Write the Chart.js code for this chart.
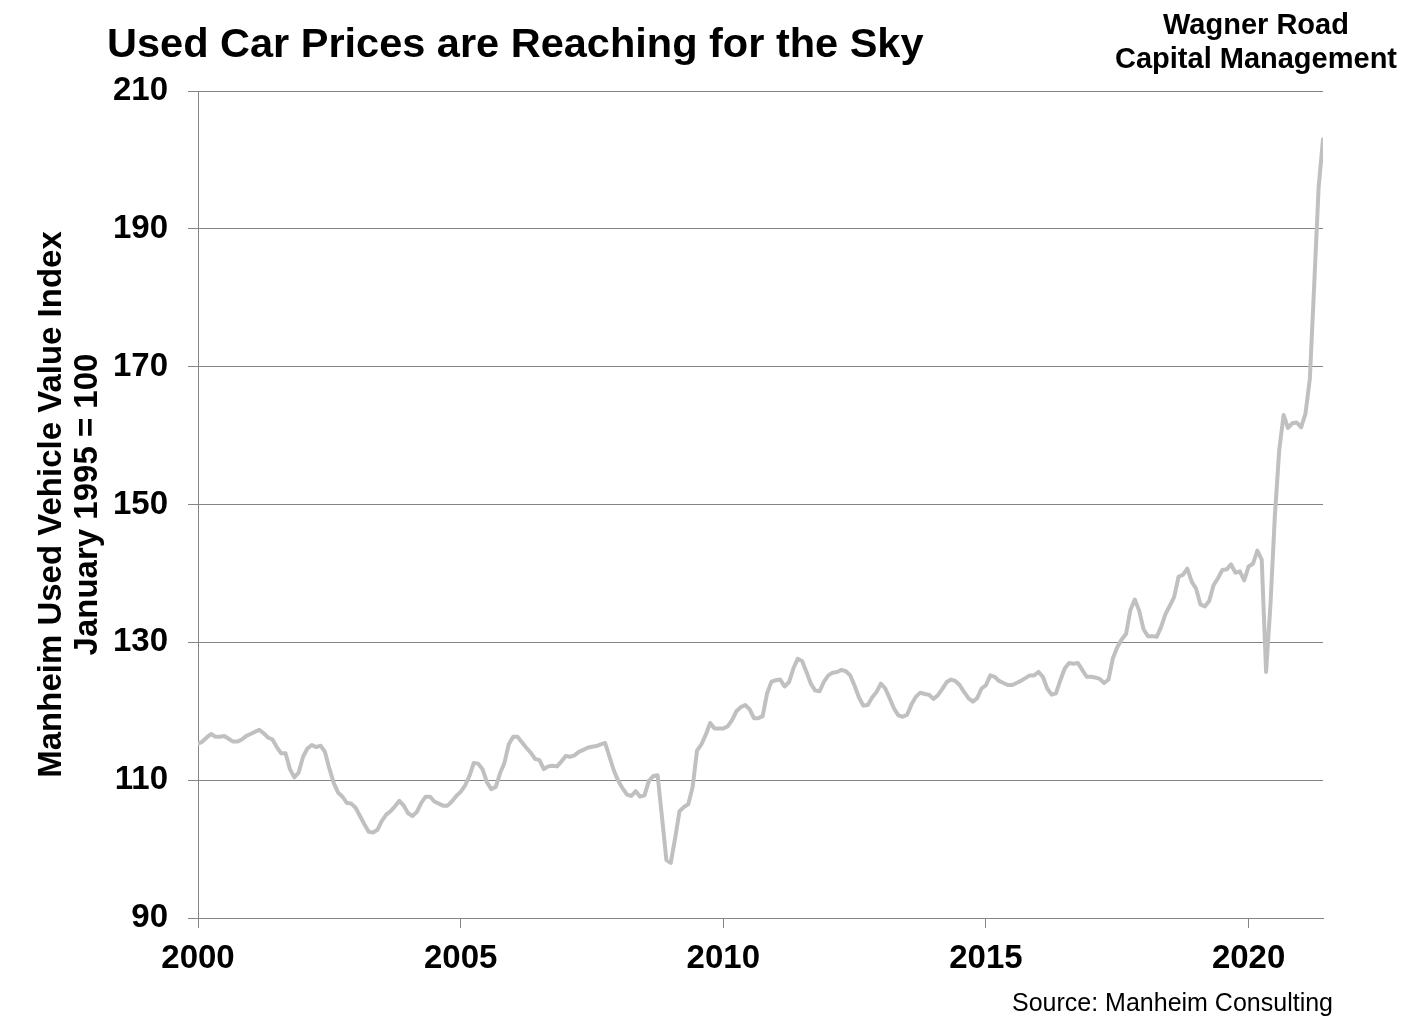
<!DOCTYPE html>
<html>
<head>
<meta charset="utf-8">
<script src="https://cdn.jsdelivr.net/npm/chart.js@4.4.1/dist/chart.umd.min.js"></script>
<style>
  html, body { margin: 0; padding: 0; background: #ffffff; }
  #wrap { position: relative; width: 1420px; height: 1031px; overflow: hidden;
          font-family: "Liberation Sans", Arial, Helvetica, sans-serif; color: #000; }
  #c { position: absolute; left: 0; top: 0; }
  #title { position: absolute; left: 107px; top: 18px; font-size: 41.5px; font-weight: bold;
           line-height: 50px; white-space: nowrap; }
  #firm { position: absolute; left: 1096px; top: 7px; width: 320px; text-align: center;
          font-size: 29px; font-weight: bold; line-height: 34px; white-space: nowrap; }
  #source { position: absolute; right: 87px; top: 988px; font-size: 25px; line-height: 29px;
            white-space: nowrap; }
</style>
</head>
<body>
<div id="wrap">
  <canvas id="c" width="1420" height="1031"></canvas>
  <div id="title">Used Car Prices are Reaching for the Sky</div>
  <div id="firm">Wagner Road<br>Capital Management</div>
  <div id="source">Source: Manheim Consulting</div>
</div>
<script>
// Manheim Used Vehicle Value Index (January 1995 = 100), month-end readings
const dec1999 = [115.3];
const v2000 = [115.6, 116.2, 116.7, 116.3, 116.3, 116.4, 116.0, 115.6, 115.6, 115.9, 116.4, 116.7];
const v2001 = [117.0, 117.3, 116.8, 116.2, 115.9, 114.8, 113.9, 113.9, 111.6, 110.4, 111.1, 113.4];
const v2002 = [114.6, 115.1, 114.8, 115.0, 114.1, 111.7, 109.6, 108.2, 107.6, 106.7, 106.6, 106.0];
const v2003 = [104.8, 103.6, 102.5, 102.4, 102.8, 104.1, 105.0, 105.5, 106.2, 107.0, 106.3, 105.2];
const v2004 = [104.8, 105.4, 106.7, 107.6, 107.6, 106.9, 106.6, 106.3, 106.3, 106.9, 107.7, 108.3];
const v2005 = [109.2, 110.6, 112.5, 112.4, 111.6, 109.7, 108.7, 109.0, 111.0, 112.5, 115.2, 116.3];
const v2006 = [116.3, 115.5, 114.7, 114.0, 113.1, 112.9, 111.6, 112.0, 112.1, 112.0, 112.7, 113.5];
const v2007 = [113.4, 113.6, 114.1, 114.4, 114.7, 114.85, 114.95, 115.2, 115.4, 113.4, 111.4, 109.9];
const v2008 = [108.8, 107.9, 107.7, 108.4, 107.6, 107.8, 109.9, 110.6, 110.7, 104.6, 98.4, 98.0];
const v2009 = [101.6, 105.5, 106.1, 106.5, 109.0, 114.3, 115.2, 116.6, 118.3, 117.5, 117.5, 117.5];
const v2010 = [117.8, 118.7, 120.0, 120.6, 120.9, 120.3, 119.0, 119.0, 119.3, 122.6, 124.3, 124.5];
const v2011 = [124.6, 123.6, 124.2, 126.2, 127.6, 127.3, 125.7, 124.0, 123.0, 122.9, 124.3, 125.2];
const v2012 = [125.6, 125.7, 126.0, 125.8, 125.2, 123.7, 122.0, 120.8, 120.9, 122.0, 122.8, 124.0];
const v2013 = [123.3, 121.9, 120.4, 119.4, 119.2, 119.5, 121.0, 122.1, 122.7, 122.5, 122.4, 121.8];
const v2014 = [122.3, 123.2, 124.2, 124.6, 124.4, 123.8, 122.8, 121.9, 121.4, 121.9, 123.3, 123.8];
const v2015 = [125.2, 125.0, 124.4, 124.1, 123.8, 123.8, 124.1, 124.4, 124.8, 125.2, 125.2, 125.7];
const v2016 = [125.0, 123.3, 122.4, 122.6, 124.5, 126.2, 127.0, 126.9, 127.0, 126.0, 125.0, 125.0];
const v2017 = [124.9, 124.7, 124.1, 124.6, 127.7, 129.3, 130.4, 131.2, 134.7, 136.2, 134.6, 131.9];
const v2018 = [130.9, 130.9, 130.8, 132.2, 134.1, 135.3, 136.6, 139.5, 139.8, 140.7, 138.8, 137.8];
const v2019 = [135.5, 135.2, 136.0, 138.3, 139.3, 140.5, 140.6, 141.3, 140.1, 140.3, 139.0, 141.0];
const v2020 = [141.4, 143.3, 142.0, 125.7, 135.5, 148.3, 157.9, 163.0, 161.1, 161.8, 161.9, 161.2];
const v2021 = [163.2, 168.3, 182.0, 196.0, 203.0];

const startYear = 2000;
const xTickYears = [2000, 2005, 2010, 2015, 2020];
const yTicks = [90, 110, 130, 150, 170, 190, 210];
const yTitle = ['Manheim Used Vehicle Value Index', 'January 1995 = 100'];

const series = [].concat(dec1999, v2000, v2001, v2002, v2003, v2004, v2005, v2006, v2007,
  v2008, v2009, v2010, v2011, v2012, v2013, v2014, v2015, v2016, v2017, v2018, v2019, v2020, v2021);
// x = months elapsed since 1 Jan 2000 (point k sits at the end of its month)
const points = series.map((v, k) => ({ x: k, y: v }));

const FONT = '"Liberation Sans", Arial, Helvetica, sans-serif';
const GRID = '#858585';

new Chart(document.getElementById('c'), {
  type: 'line',
  data: {
    datasets: [{
      data: points,
      borderColor: '#c0c0c0',
      borderWidth: 4,
      pointRadius: 0,
      tension: 0,
      borderJoinStyle: 'round',
      borderCapStyle: 'round',
      fill: false
    }]
  },
  options: {
    responsive: false,
    animation: false,
    devicePixelRatio: 1,
    layout: { padding: { top: 91, right: 97, bottom: 0, left: 0 } },
    plugins: { legend: { display: false }, tooltip: { enabled: false }, title: { display: false } },
    scales: {
      x: {
        type: 'linear',
        min: 0,
        max: points.length - 1,
        afterFit: s => { s.height = 113; },
        afterBuildTicks: s => {
          s.ticks = xTickYears.map(y => ({ value: (y - startYear) * 12 }));
        },
        ticks: {
          autoSkip: false, maxRotation: 0, padding: 11, color: '#000',
          font: { family: FONT, size: 33, weight: 'bold' },
          callback: v => String(startYear + v / 12)
        },
        grid: { drawOnChartArea: false, drawTicks: true, tickLength: 10, color: GRID, lineWidth: 1 },
        border: { display: true, color: GRID, width: 1 }
      },
      y: {
        min: yTicks[0],
        max: yTicks[yTicks.length - 1],
        afterFit: s => { s.width = 198; },
        afterBuildTicks: s => { s.ticks = yTicks.map(v => ({ value: v })); },
        ticks: {
          padding: 20, color: '#000',
          font: { family: FONT, size: 33, weight: 'bold' }
        },
        grid: { color: GRID, lineWidth: 1, tickLength: 10 },
        border: { display: true, color: GRID, width: 1 },
        title: {
          display: true,
          text: yTitle,
          color: '#000',
          font: { family: FONT, size: 33, weight: 'bold', lineHeight: 1.09 },
          padding: { top: 34, bottom: 0 }
        }
      }
    }
  }
});
</script>
</body>
</html>
